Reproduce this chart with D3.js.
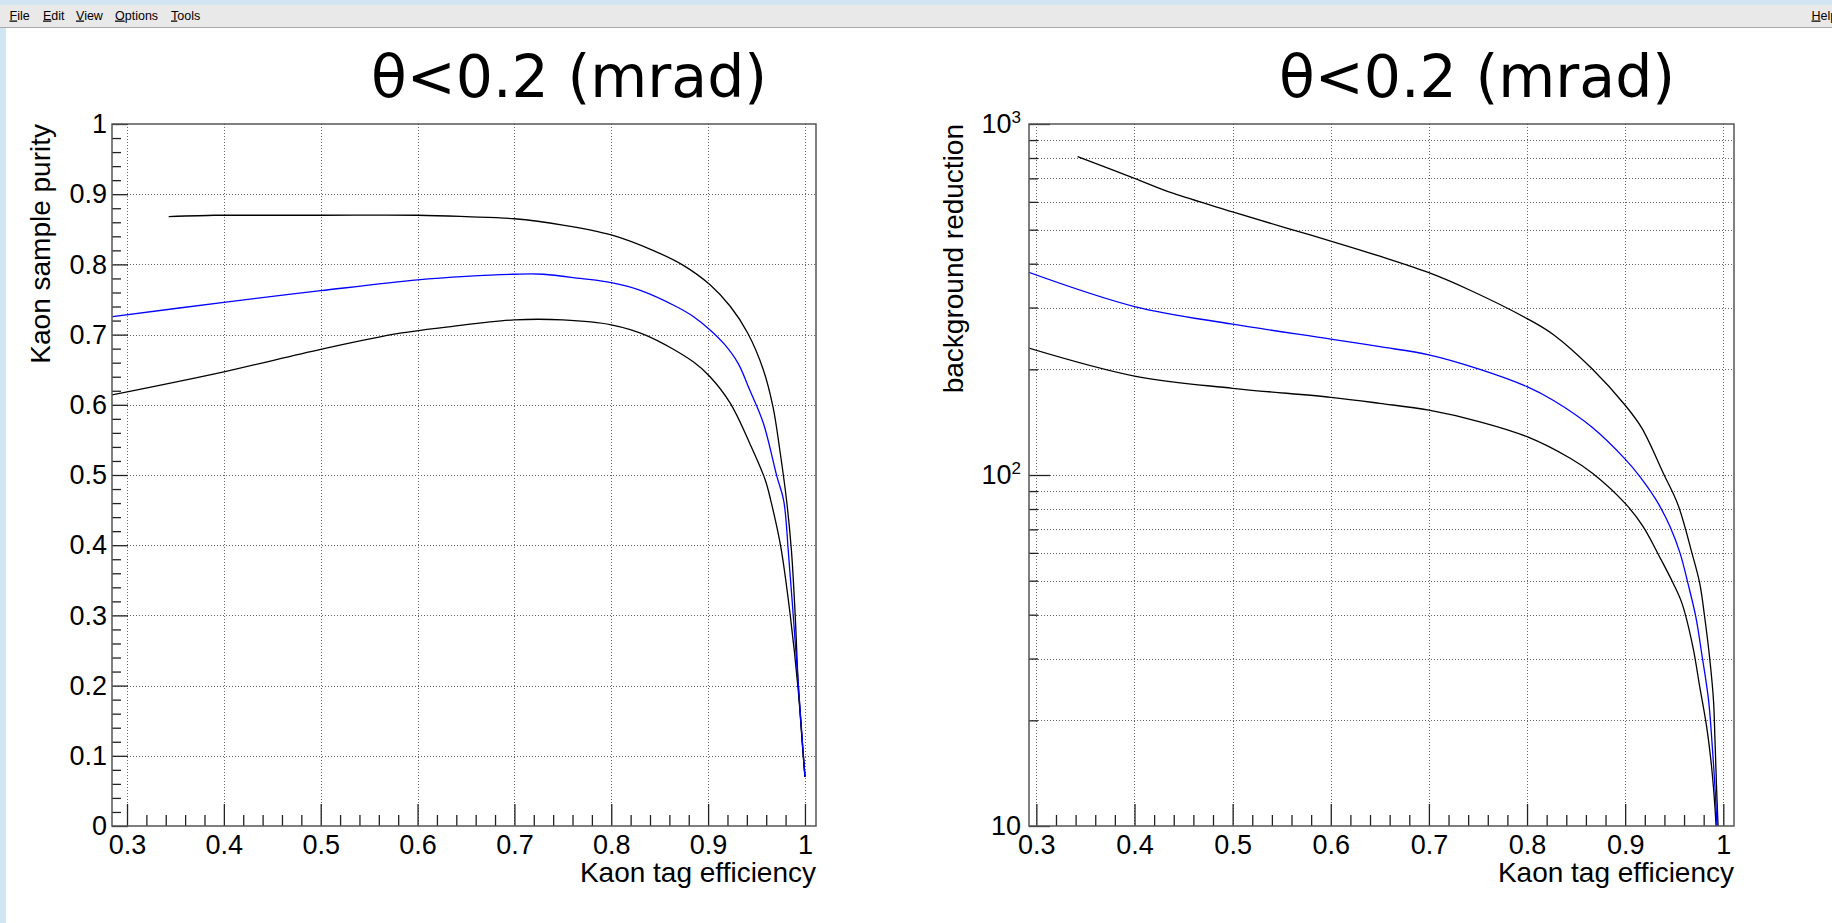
<!DOCTYPE html>
<html><head><meta charset="utf-8">
<script src="https://cdn.jsdelivr.net/npm/d3@7"></script>
<style>
html,body{margin:0;padding:0;background:#fff;overflow:hidden}
svg{display:block}
</style></head><body>
<svg id="c" width="1832" height="923"></svg>
<script>
// ---------- data ----------
const titleText = "θ<0.2 (mrad)";
const xTitle = "Kaon tag efficiency";
const purityTitle = "Kaon sample purity";
const reductionTitle = "background reduction";
const menuItems = ["File", "Edit", "View", "Options", "Tools"];
const helpItem = "Help";

const effTicks = [0.3, 0.4, 0.5, 0.6, 0.7, 0.8, 0.9, 1.0];
const purityTicks = [0, 0.1, 0.2, 0.3, 0.4, 0.5, 0.6, 0.7, 0.8, 0.9, 1];
const reductionTicks = [10, 100, 1000];
const reductionMinorTicks = [20, 30, 40, 50, 60, 70, 80, 90, 200, 300, 400, 500, 600, 700, 800, 900];

// purity vs efficiency
const purUpX = [0.343, 0.39, 0.40, 0.50, 0.60, 0.65, 0.70, 0.75, 0.80, 0.843, 0.874, 0.902, 0.923, 0.941, 0.957, 0.967, 0.974, 0.981, 0.986, 0.990, 0.993, 0.9966, 1.0];
const purUpY = [0.868, 0.870, 0.870, 0.870, 0.870, 0.868, 0.865, 0.856, 0.842, 0.820, 0.799, 0.771, 0.740, 0.702, 0.650, 0.597, 0.536, 0.464, 0.393, 0.298, 0.204, 0.132, 0.070];
const purMidX = [0.285, 0.40, 0.50, 0.60, 0.65, 0.70, 0.73, 0.768, 0.80, 0.83, 0.867, 0.885, 0.902, 0.917, 0.931, 0.943, 0.957, 0.971, 0.978, 0.983, 0.988, 0.993, 0.998, 1.0];
const purMidY = [0.7255, 0.746, 0.7625, 0.778, 0.783, 0.786, 0.786, 0.780, 0.774, 0.763, 0.740, 0.7255, 0.7067, 0.686, 0.659, 0.621, 0.574, 0.498, 0.464, 0.388, 0.298, 0.204, 0.108, 0.070];
const purLowX = [0.284, 0.40, 0.50, 0.582, 0.632, 0.70, 0.75, 0.80, 0.836, 0.885, 0.902, 0.923, 0.943, 0.959, 0.965, 0.975, 0.985, 0.993, 0.998, 1.0];
const purLowY = [0.614, 0.647, 0.679, 0.702, 0.711, 0.721, 0.721, 0.714, 0.699, 0.661, 0.640, 0.602, 0.545, 0.493, 0.462, 0.398, 0.298, 0.194, 0.104, 0.070];

// background reduction vs efficiency
const redUpX = [0.342, 0.40, 0.439, 0.50, 0.555, 0.60, 0.65, 0.70, 0.742, 0.80, 0.827, 0.866, 0.90, 0.917, 0.939, 0.954, 0.968, 0.976, 0.981, 0.986, 0.990, 0.9915, 0.993, 0.9939, 0.995];
const redUpY = [807, 700, 635, 562, 505, 464, 420, 377, 336, 279, 251, 201, 158, 136, 101, 82, 60, 49.1, 39.4, 30.3, 22.8, 17.6, 13.2, 11.3, 9.5];
const redMidX = [0.29, 0.40, 0.50, 0.60, 0.65, 0.70, 0.752, 0.80, 0.827, 0.866, 0.90, 0.915, 0.932, 0.946, 0.956, 0.964, 0.972, 0.978, 0.985, 0.989, 0.9915, 0.994];
const redMidY = [380, 302, 269, 244, 232, 220, 200, 178.5, 163, 137, 111, 99, 84.5, 71, 59.8, 49.1, 39.4, 31, 22.8, 16.5, 12.9, 9.5];
const redLowX = [0.29, 0.40, 0.50, 0.60, 0.65, 0.70, 0.752, 0.80, 0.844, 0.867, 0.90, 0.918, 0.935, 0.949, 0.958, 0.969, 0.976, 0.983, 0.988, 0.9915, 0.993];
const redLowY = [231, 191.4, 176.6, 166.5, 160, 153, 141.8, 128.6, 111.6, 101, 83, 71.5, 58.5, 49.1, 43, 32.4, 24.9, 19.2, 14.8, 11.3, 9.5];

// ---------- drawing ----------
const svg = d3.select("#c");
const AX_FONT = "'Liberation Sans', Arial, Helvetica, sans-serif";

// window chrome
svg.append("rect").attr("x", 0).attr("y", 0).attr("width", 1832).attr("height", 923).attr("fill", "#d2e5f3");
svg.append("rect").attr("x", 0).attr("y", 5).attr("width", 1832).attr("height", 22).attr("fill", "#e9e9e9");
svg.append("rect").attr("x", 0).attr("y", 27).attr("width", 1832).attr("height", 1).attr("fill", "#aaaaaa");
svg.append("rect").attr("x", 6).attr("y", 28).attr("width", 1826).attr("height", 895).attr("fill", "#ffffff");

const menuX = [9.5, 43, 76, 115, 171];
const menu = svg.append("g").attr("font-family", AX_FONT).attr("font-size", 12.5).attr("fill", "#000");
menuItems.forEach((m, i) => {
  const t = menu.append("text").attr("x", menuX[i]).attr("y", 19.5);
  t.append("tspan").style("text-decoration", "underline").text(m[0]);
  t.append("tspan").text(m.slice(1));
});
{
  const t = menu.append("text").attr("x", 1811.5).attr("y", 19.5);
  t.append("tspan").style("text-decoration", "underline").text(helpItem[0]);
  t.append("tspan").text(helpItem.slice(1));
}

function panel(o) {
  const g = svg.append("g");
  const x = o.x, y = o.y;
  const [x0, x1] = x.range(), [y0, y1] = y.range(); // y0 bottom, y1 top
  const id = "clip" + o.name;
  g.append("clipPath").attr("id", id).append("rect")
    .attr("x", x0).attr("y", y1).attr("width", x1 - x0).attr("height", y0 - y1);

  // grid
  const grid = g.append("g").attr("stroke", "#666").attr("stroke-width", 1)
    .attr("stroke-dasharray", "1,2").attr("shape-rendering", "crispEdges");
  grid.selectAll(".vg").data(effTicks).join("line")
    .attr("x1", d => Math.round(x(d)) + 0.5).attr("x2", d => Math.round(x(d)) + 0.5)
    .attr("y1", y1).attr("y2", y0);
  grid.selectAll(".hg").data(o.yGrid).join("line")
    .attr("y1", d => Math.round(y(d)) + 0.5).attr("y2", d => Math.round(y(d)) + 0.5)
    .attr("x1", x0).attr("x2", x1);

  // curves
  const line = d3.line().x(d => x(d[0])).y(d => y(d[1])).curve(d3.curveCatmullRom.alpha(0.5));
  const cg = g.append("g").attr("clip-path", `url(#${id})`).attr("fill", "none");
  o.series.forEach(s => {
    cg.append("path").datum(s.xs.map((v, i) => [v, s.ys[i]]))
      .attr("d", line).attr("stroke", s.color).attr("stroke-width", 1.3);
  });

  // x axis minor + major
  const xMinor = d3.range(0.32, 1.0, 0.02).filter(v => effTicks.every(t => Math.abs(t - v) > 1e-6) && x(v) > x0 && x(v) < x1);
  g.append("g").attr("transform", `translate(0,${y0})`)
    .call(d3.axisBottom(x).tickValues(xMinor).tickSize(-11).tickFormat(""))
    .call(a => a.select(".domain").remove());
  const xa = g.append("g").attr("transform", `translate(0,${y0})`)
    .call(d3.axisBottom(x).tickValues(effTicks).tickSize(-22).tickPadding(9).tickFormat(d3.format("~g")))
    .call(a => a.select(".domain").remove());
  xa.selectAll("text").attr("font-size", 27).attr("font-family", AX_FONT).attr("fill", "#000");

  // y axis
  g.append("g").attr("transform", `translate(${x0},0)`)
    .call(d3.axisLeft(y).tickValues(o.yMinor).tickSize(-9).tickFormat(""))
    .call(a => a.select(".domain").remove());
  const ya = g.append("g").attr("transform", `translate(${x0},0)`)
    .call(d3.axisLeft(y).tickValues(o.yMajor).tickSize(-o.yMajorLen).tickPadding(o.yPad).tickFormat(o.yFormat))
    .call(a => a.select(".domain").remove());
  ya.selectAll("text").attr("font-size", 27).attr("font-family", AX_FONT).attr("fill", "#000");
  if (o.logLabels) {
    ya.selectAll(".tick text").each(function(d) {
      const t = d3.select(this);
      t.text("");
      if (d === 10) { t.text("10"); return; }
      t.append("tspan").text("10");
      t.append("tspan").attr("font-size", 17).attr("dy", "-0.62em").text(String(Math.round(Math.log10(d))));
    });
  }
  g.selectAll(".tick line").attr("stroke", "#222").attr("stroke-width", 1.3);

  // frame
  g.append("rect").attr("x", x0).attr("y", y1).attr("width", x1 - x0).attr("height", y0 - y1)
    .attr("fill", "none").attr("stroke", "#555").attr("stroke-width", 1.5);

  // titles
  g.append("text").attr("x", x1).attr("y", 882).attr("text-anchor", "end")
    .attr("font-family", AX_FONT).attr("font-size", 28).text(xTitle);
  g.append("text").attr("transform", `translate(${o.yTitleX},${y1}) rotate(-90)`).attr("text-anchor", "end")
    .attr("font-family", AX_FONT).attr("font-size", 28).text(o.yTitle);
  g.append("text").attr("x", o.titleX).attr("y", 97)
    .attr("font-family", "'DejaVu Sans', sans-serif").attr("font-size", 58.5).text(titleText);
}

const minorPurity = d3.range(0.02, 1.0, 0.02).filter(v => purityTicks.every(t => Math.abs(t - v) > 1e-6));

panel({
  name: "L",
  x: d3.scaleLinear().domain([0.2845, 1.0114]).range([112, 816]),
  y: d3.scaleLinear().domain([0, 1]).range([826, 124]),
  yGrid: purityTicks.slice(1, -1),
  yMajor: purityTicks, yMinor: minorPurity, yMajorLen: 16, yPad: 5,
  yFormat: d3.format("~g"),
  yTitle: purityTitle, yTitleX: 49.5, titleX: 371,
  series: [
    {xs: purUpX, ys: purUpY, color: "#000"},
    {xs: purLowX, ys: purLowY, color: "#000"},
    {xs: purMidX, ys: purMidY, color: "#0000ff"}
  ]
});

panel({
  name: "R",
  x: d3.scaleLinear().domain([0.2925, 1.0109]).range([1029, 1734]),
  y: d3.scaleLog().domain([10, 1000]).range([826, 124]),
  yGrid: reductionMinorTicks.concat([100]),
  yMajor: reductionTicks, yMinor: reductionMinorTicks, yMajorLen: 21, yPad: 8,
  yFormat: d => String(d), logLabels: true,
  yTitle: reductionTitle, yTitleX: 962.5, titleX: 1279,
  series: [
    {xs: redUpX, ys: redUpY, color: "#000"},
    {xs: redLowX, ys: redLowY, color: "#000"},
    {xs: redMidX, ys: redMidY, color: "#0000ff"}
  ]
});
</script>
</body></html>
